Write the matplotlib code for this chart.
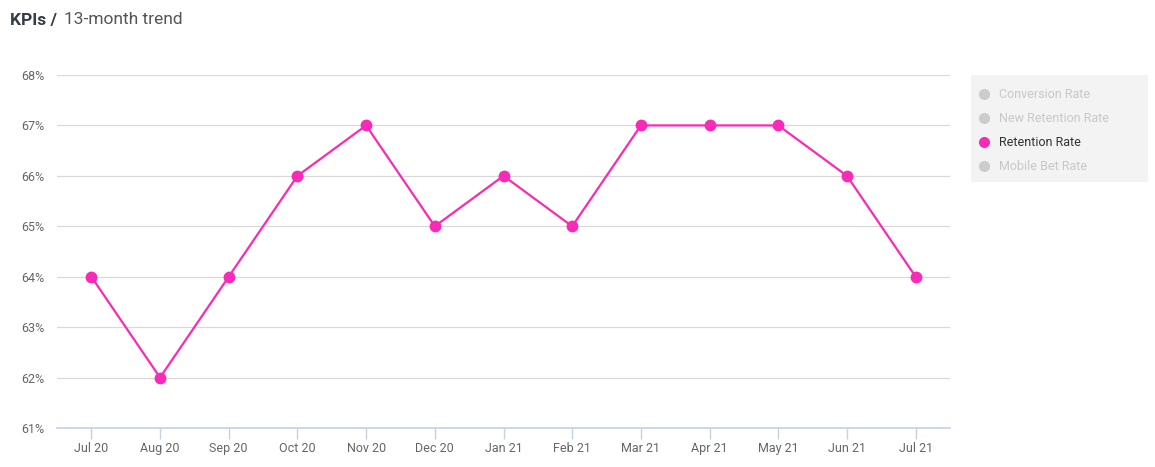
import matplotlib
matplotlib.use("Agg")
import matplotlib.pyplot as plt

plt.rcParams['font.family'] = ['Roboto', 'DejaVu Sans']

months = ['Jul 20', 'Aug 20', 'Sep 20', 'Oct 20', 'Nov 20', 'Dec 20', 'Jan 21',
          'Feb 21', 'Mar 21', 'Apr 21', 'May 21', 'Jun 21', 'Jul 21']
retention = [64, 62, 64, 66, 67, 65, 66, 65, 67, 67, 67, 66, 64]
yticks = [61, 62, 63, 64, 65, 66, 67, 68]
series_names = ['Conversion Rate', 'New Retention Rate', 'Retention Rate', 'Mobile Bet Rate']
active = 'Retention Rate'

pink = '#f72bb8'
W, H = 1155, 467
fig = plt.figure(figsize=(W / 100, H / 100), dpi=100)
ax = fig.add_axes([57 / W, 1 - 428 / H, (950 - 57) / W, (428 - 75) / H])

x = list(range(len(months)))
ax.plot(x, retention, color=pink, lw=1.6, marker='o', ms=7.5, zorder=3)

ax.set_xlim(-0.5, len(months) - 0.5)
ax.set_ylim(61, 68)
ax.set_yticks(yticks)
ax.set_yticklabels([f'{v}%' for v in yticks])
ax.set_xticks(x)
ax.set_xticklabels(months)
ax.grid(axis='y', color='#d9d9d9', lw=0.9)
ax.set_axisbelow(True)
for s in ['top', 'right', 'left']:
    ax.spines[s].set_visible(False)
ax.spines['bottom'].set_color('#c4d2e2')
ax.spines['bottom'].set_linewidth(1.2)
ax.tick_params(axis='x', colors='#c4d2e2', length=8, width=1, pad=2, labelcolor='#666666', labelsize=9)
ax.tick_params(axis='y', length=0, pad=9, labelcolor='#666666', labelsize=9)

# title
fig.text(10 / W, 1 - 20 / H, 'KPIs /', fontsize=12.5, fontweight='bold', color='#333d47', va='center')
fig.text(64 / W, 1 - 20 / H, '13-month trend', fontsize=12.5, color='#555555', va='center')

# legend panel
lax = fig.add_axes([971 / W, 1 - 182 / H, (1148 - 971) / W, (182 - 75) / H])
lax.set_xlim(0, 177)
lax.set_ylim(107, 0)
lax.set_facecolor('#f3f3f3')
for s in lax.spines.values():
    s.set_visible(False)
lax.set_xticks([])
lax.set_yticks([])
for i, name in enumerate(series_names):
    yy = 19 + 24 * i
    on = name == active
    lax.plot(13, yy, 'o', ms=7, color=pink if on else '#cccccc')
    lax.text(28, yy, name, va='center', fontsize=9, color='#333333' if on else '#c8c8c8')

fig.savefig('out.png', dpi=100)
